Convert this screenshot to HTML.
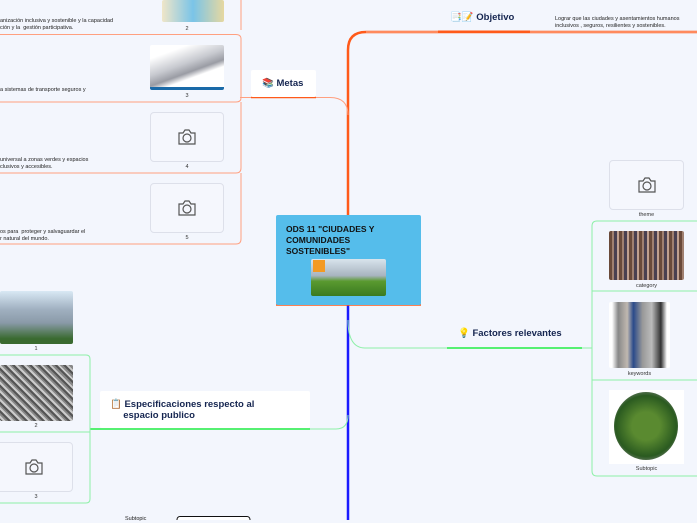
<!DOCTYPE html>
<html><head><meta charset="utf-8"><style>
*{margin:0;padding:0;box-sizing:border-box}
body{width:697px;height:520px;overflow:hidden;background:#f3f6fd;font-family:"Liberation Sans",sans-serif;position:relative}
.a{position:absolute}
.t{font-size:5.5px;color:#222;line-height:7px}
.lbl{font-size:5.5px;color:#333;text-align:center}
.cam{position:absolute;border:1px solid #dde0ea;border-radius:4px;background:#f5f7fd}
.cam svg{position:absolute;left:50%;top:50%;transform:translate(-50%,-50%)}
.h{font-weight:bold;color:#152550;font-size:9.5px}
.img{position:absolute;border-radius:2px}
</style></head><body>
<svg class="a" style="left:0;top:0" width="697" height="520">
<!-- orange -->
<path d="M348 215 V50 Q348 32 366 32 H697" stroke="#ff5a1a" stroke-width="2.5" fill="none"/>
<path d="M366 32 H697" stroke="#ffb9a0" stroke-width="1" fill="none"/>
<line x1="438" y1="31.5" x2="530" y2="31.5" stroke="#ff5a1a" stroke-width="2"/>
<path d="M240 97.5 H330 Q348 97.5 348 115" stroke="#ffa080" stroke-width="1" fill="none"/>
<line x1="251" y1="97.5" x2="316" y2="97.5" stroke="#ff5a1a" stroke-width="1.5"/>
<path d="M0 34.5 H236 Q241 34.5 241 39 V98 Q241 102 236 102 H0 M241 102 V168 Q241 173 236 173 H0 M241 173 V239 Q241 244 236 244 H0 M241 0 V30" stroke="#ffa080" stroke-width="1" fill="none"/>
<!-- blue -->
<path d="M348 305 V520" stroke="#1a1aff" stroke-width="2.5" fill="none"/>
<line x1="276" y1="305" x2="421" y2="305" stroke="#ff5a1a" stroke-width="1.5"/>
<!-- green right -->
<path d="M348 320 Q348 348 365 348 H592" stroke="#8ef0a8" stroke-width="1" fill="none"/>
<line x1="447" y1="348" x2="582" y2="348" stroke="#22ee44" stroke-width="1.5"/>
<path d="M697 221 H597 Q592 221 592 226 V471 Q592 476 597 476 H697 M592 291 H697 M592 380 H697" stroke="#8ef0a8" stroke-width="1" fill="none"/>
<!-- green left -->
<path d="M90 429 H336 Q348 429 348 415" stroke="#8ef0a8" stroke-width="1" fill="none"/>
<line x1="90" y1="429" x2="310" y2="429" stroke="#22ee44" stroke-width="1.5"/>
<path d="M0 355 H86 Q90 355 90 359 V499 Q90 503 86 503 H0 M0 432 H90" stroke="#8ef0a8" stroke-width="1" fill="none"/>
<rect x="177" y="516.5" width="73" height="10" rx="3" fill="#fff" stroke="#111" stroke-width="1"/>
</svg>

<!-- left orange rows -->
<div class="img" style="left:162px;top:0;width:62px;height:22px;background:linear-gradient(90deg,#f0e6c8,#7ac4e8,#e6d8a0)"></div>
<div class="lbl a" style="left:180px;top:26px;width:14px">2</div>
<div class="t a" style="left:0;top:18px">anización inclusiva y sostenible y la capacidad<br>ción y la &nbsp;gestión participativa.</div>
<div class="img" style="left:150px;top:45px;width:74px;height:45px;background:linear-gradient(160deg,#fff 20%,#c8cad0 45%,#9a9ca4 60%,#fff 70%);border-bottom:3px solid #1a6aa8"></div>
<div class="lbl a" style="left:180px;top:93px;width:14px">3</div>
<div class="t a" style="left:0;top:87px">a sistemas de transporte seguros y</div>
<div class="cam" style="left:150px;top:112px;width:74px;height:50px"><svg width="18" height="16" viewBox="0 0 18 16"><path d="M1 4h4l2-3h4l2 3h4v11H1z" fill="none" stroke="#555" stroke-width="1.2"/><circle cx="9" cy="9" r="4" fill="none" stroke="#555" stroke-width="1.2"/></svg></div>
<div class="lbl a" style="left:180px;top:164px;width:14px">4</div>
<div class="t a" style="left:0;top:157px">universal a zonas verdes y espacios<br>clusivos y accesibles.</div>
<div class="cam" style="left:150px;top:183px;width:74px;height:50px"><svg width="18" height="16" viewBox="0 0 18 16"><path d="M1 4h4l2-3h4l2 3h4v11H1z" fill="none" stroke="#555" stroke-width="1.2"/><circle cx="9" cy="9" r="4" fill="none" stroke="#555" stroke-width="1.2"/></svg></div>
<div class="lbl a" style="left:180px;top:235px;width:14px">5</div>
<div class="t a" style="left:0;top:229px">os para &nbsp;proteger y salvaguardar el<br>r natural del mundo.</div>

<!-- Metas -->
<div class="a" style="left:251px;top:70px;width:65px;height:27px;background:#fff;border-radius:2px"></div>
<div class="a h" style="left:262px;top:78px">📚 Metas</div>

<!-- Objetivo -->
<div class="a h" style="left:450px;top:12px">📑📝 Objetivo</div>
<div class="t a" style="left:555px;top:16px">Lograr que las ciudades y asentamientos humanos<br>inclusivos , seguros, resilientes y sostenibles.</div>

<!-- Central -->
<div class="a" style="left:276px;top:215px;width:145px;height:90px;background:#55bdeb;border-radius:2px"></div>
<div class="a" style="left:286px;top:224px;font-weight:bold;font-size:8.5px;line-height:11px;color:#111">ODS 11 "CIUDADES Y<br>COMUNIDADES<br>SOSTENIBLES"</div>
<div class="img" style="left:311px;top:259px;width:75px;height:37px;background:linear-gradient(180deg,#d8e4ec 0%,#a8b4c0 45%,#5a9a30 60%,#3a7a20 100%)"></div>
<div class="a" style="left:313px;top:260px;width:12px;height:12px;background:#f39a24"></div>

<!-- right green -->
<div class="cam" style="left:609px;top:160px;width:75px;height:50px"><svg width="18" height="16" viewBox="0 0 18 16"><path d="M1 4h4l2-3h4l2 3h4v11H1z" fill="none" stroke="#555" stroke-width="1.2"/><circle cx="9" cy="9" r="4" fill="none" stroke="#555" stroke-width="1.2"/></svg></div>
<div class="lbl a" style="left:609px;top:212px;width:75px">theme</div>
<div class="img" style="left:609px;top:231px;width:75px;height:49px;background:repeating-linear-gradient(90deg,#6a4a3a 0 3px,#a08070 3px 5px,#4a4050 5px 8px,#c0a090 8px 10px)"></div>
<div class="lbl a" style="left:609px;top:283px;width:75px">category</div>
<div class="img" style="left:609px;top:302px;width:61px;height:66px;background:linear-gradient(90deg,#fff 5%,#888 15%,#c0b8b0 30%,#2a4a8a 40%,#999 55%,#bbb 70%,#333 85%,#fff 95%)"></div>
<div class="lbl a" style="left:609px;top:371px;width:61px">keywords</div>
<div class="a" style="left:609px;top:390px;width:75px;height:74px;background:#fff"></div>
<div class="a" style="left:614px;top:392px;width:64px;height:68px;border-radius:50%;background:radial-gradient(circle,#5a8a30 30%,#2a5a20 65%,#8a8a8a 85%)"></div>
<div class="lbl a" style="left:609px;top:466px;width:75px">Subtopic</div>
<div class="a h" style="left:458px;top:328px">💡 Factores relevantes</div>

<!-- Especificaciones -->
<div class="a" style="left:100px;top:391px;width:210px;height:37px;background:#fff;border-radius:2px"></div>
<div class="a h" style="left:110px;top:399px;line-height:11px">📋 Especificaciones respecto al<br>&nbsp;&nbsp;&nbsp;&nbsp;&nbsp;espacio publico</div>

<!-- left green -->
<div class="img" style="left:0;top:291px;width:73px;height:53px;background:linear-gradient(180deg,#d8e8f4 0%,#a0b0c0 35%,#8a9aa8 60%,#3a6a30 90%)"></div>
<div class="lbl a" style="left:29px;top:346px;width:14px">1</div>
<div class="img" style="left:0;top:365px;width:73px;height:56px;background:repeating-linear-gradient(45deg,#555 0 2px,#ccc 2px 4px,#888 4px 6px)"></div>
<div class="lbl a" style="left:29px;top:423px;width:14px">2</div>
<div class="cam" style="left:-5px;top:442px;width:78px;height:50px"><svg width="18" height="16" viewBox="0 0 18 16"><path d="M1 4h4l2-3h4l2 3h4v11H1z" fill="none" stroke="#555" stroke-width="1.2"/><circle cx="9" cy="9" r="4" fill="none" stroke="#555" stroke-width="1.2"/></svg></div>
<div class="lbl a" style="left:29px;top:494px;width:14px">3</div>
<div class="t a" style="left:125px;top:516px">Subtopic</div>
</body></html>
